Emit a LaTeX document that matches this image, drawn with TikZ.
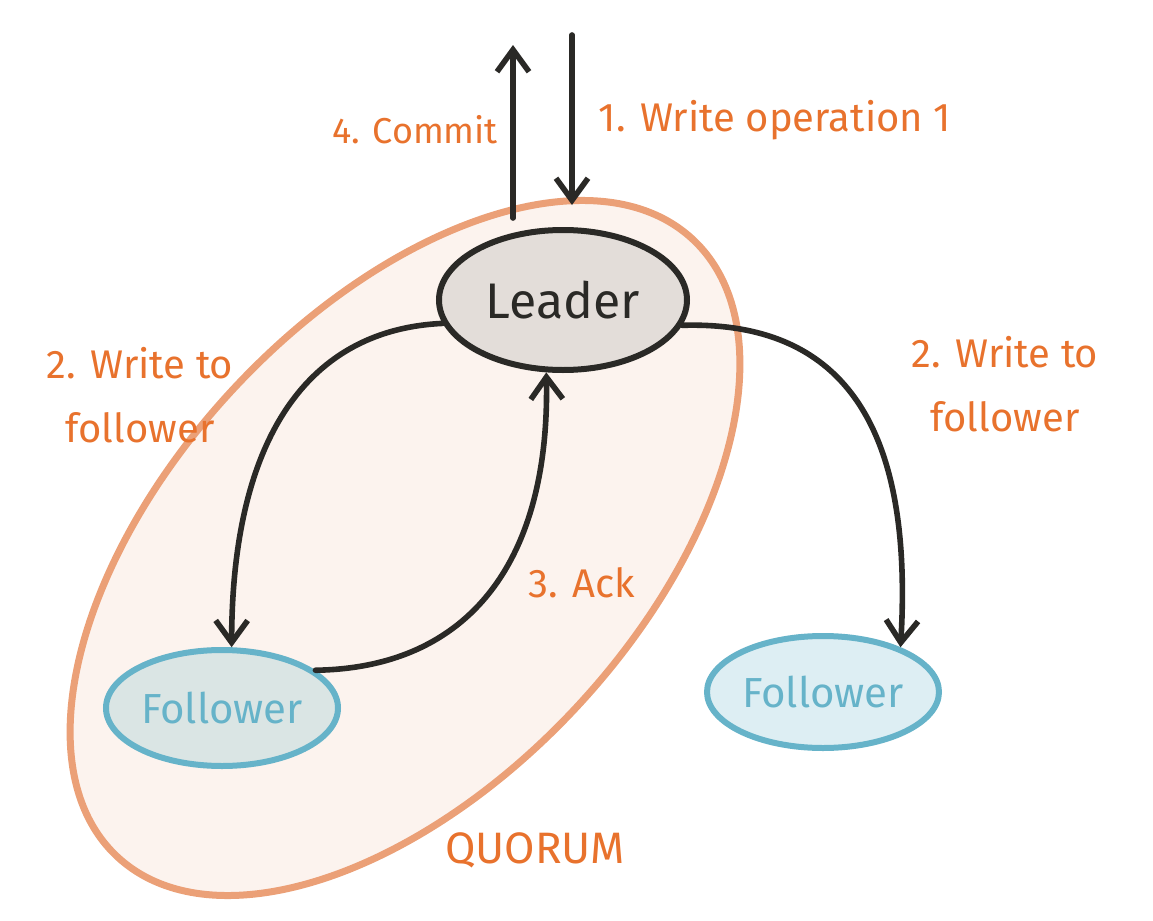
\documentclass[tikz,border=0pt]{standalone}
\usepackage{fontspec}
\setmainfont{Fira Sans}
\usetikzlibrary{shapes.geometric,arrows.meta}
\definecolor{inkorange}{HTML}{E8722D}
\definecolor{quorumedge}{HTML}{EBA077}
\definecolor{quorumfill}{HTML}{FCF3EE}
\definecolor{leadfill}{HTML}{E3DDD9}
\definecolor{inkdark}{HTML}{2A2926}
\definecolor{folledge}{HTML}{66B3C9}
\definecolor{follfilla}{HTML}{DAE5E4}
\definecolor{follfillb}{HTML}{DDEEF3}

\begin{document}
\begin{tikzpicture}[x=0.5pt,y=-0.5pt,
  leadbox/.style={ellipse,draw=inkdark,fill=leadfill,line width=3pt,inner sep=0pt,
    minimum width=124pt,minimum height=70pt,text=inkdark,font=\fontsize{25}{28}\selectfont},
  followbox/.style={ellipse,draw=folledge,line width=3pt,inner sep=0pt,
    minimum width=116pt,minimum height=58pt,text=folledge,font=\fontsize{21}{26}\selectfont},
  flow/.style={draw=inkdark,line width=2.8pt,line cap=round,
    -{Straight Barb[length=11pt,width=16pt,line width=2.8pt]}},
  note/.style={text=inkorange,align=center,font=\fontsize{20}{32}\selectfont}]
\useasboundingbox (0,0) rectangle (1153,921);
% objects at depth 100:
\path[draw=quorumedge,fill=quorumfill,line width=3.5pt,rotate around={47:(405,548)}]
  (405,548) ellipse [x radius=211pt, y radius=117pt];
% objects at depth 50:
\node[leadbox] (lead) at (563,300) {Leader};
\node[followbox,fill=follfilla] (fola) at (222,708) {Follower};
\node[followbox,fill=follfillb,minimum height=56pt] (folb) at (823,692) {Follower};
\coordinate (cbase) at (513,218);
\coordinate (ctop) at (513,45);
\coordinate (wtop) at (572,35);
\coordinate (wbase) at (572,205);
% connectors:
\draw[flow] (cbase) -- (ctop);
\draw[flow] (wtop) -- (wbase);
\draw[flow] (lead.191) .. controls (300,330) and (232,450) .. (fola.81);
\draw[flow] (lead.348) .. controls (860,320) and (912,450) .. (folb.30);
\draw[flow] (fola.22) .. controls (470,668) and (550,560) .. (lead.257);
% labels:
\node[note,font=\fontsize{18}{22}\selectfont] (commit) at (415,130) {4. Commit};
\node[note] (writeop) at (775,120) {1. Write operation 1};
\node[note] (tofola) at (140,395) {2. Write to\\follower};
\node[note] (tofolb) at (1005,384) {2. Write to\\follower};
\node[note] (ack) at (582,583) {3. Ack};
\node[note,font=\fontsize{22}{26}\selectfont] (quorum) at (535,850) {QUORUM};
\end{tikzpicture}
\end{document}
